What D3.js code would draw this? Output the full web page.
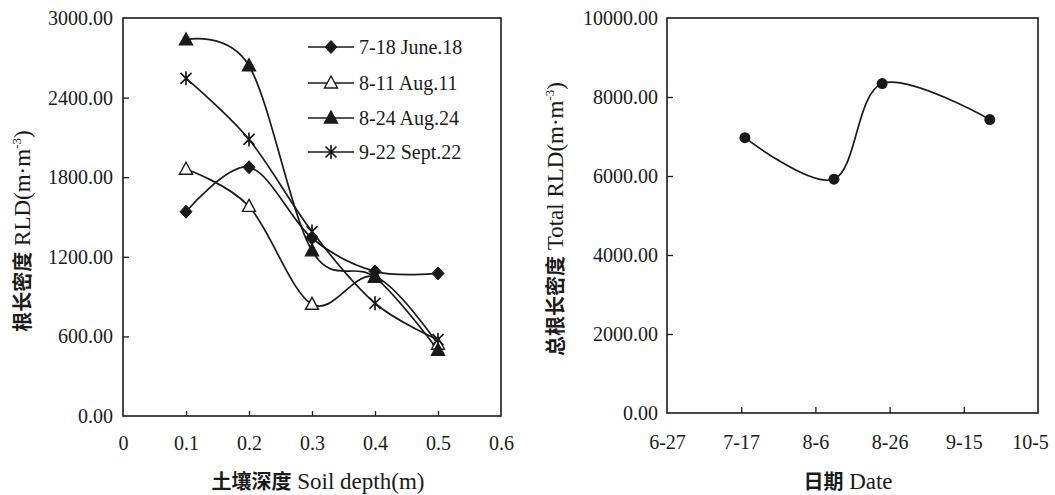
<!DOCTYPE html>
<html>
<head>
<meta charset="utf-8">
<script src="https://cdn.jsdelivr.net/npm/d3@7"></script>
<style>
  html, body { margin: 0; padding: 0; background: #fff; }
  svg { display: block; }
  text, tspan { font-family: "Liberation Serif", "Times New Roman", serif; fill: #1a1a1a; }
  tspan.cjk { font-family: "Noto Sans CJK SC", sans-serif; font-weight: 700; }
</style>
</head>
<body>
<svg id="chart" width="1055" height="495"></svg>
<script>
// ---------- data ----------
const depths = [0.1, 0.2, 0.3, 0.4, 0.5];
const seriesNames = ["7-18 June.18", "8-11 Aug.11", "8-24 Aug.24", "9-22 Sept.22"];
const june18 = [1540, 1875, 1340, 1090, 1075];
const aug11  = [1860, 1580, 842, 1050, 541];
const aug24  = [2835, 2640, 1245, 1045, 495];
const sept22 = [2545, 2085, 1390, 850, 575];
const depthTicks = [0, 0.1, 0.2, 0.3, 0.4, 0.5, 0.6];
const rldTicks = [0, 600, 1200, 1800, 2400, 3000];

const sampleDates = ["2009-07-18", "2009-08-11", "2009-08-24", "2009-09-22"];
const totalRLD = [6970, 5920, 8340, 7430];
const dateTicks = ["2009-06-27", "2009-07-17", "2009-08-06", "2009-08-26", "2009-09-15", "2009-10-05"];
const totalTicks = [0, 2000, 4000, 6000, 8000, 10000];

// ---------- setup ----------
const svg = d3.select("#chart");
const ink = "#1a1a1a";
const serif = '"Liberation Serif", "Times New Roman", serif';
const parse = d3.utcParse("%Y-%m-%d");
const fmt2 = d3.format(".2f");
const curve = d3.curveCatmullRom.alpha(0);

function frame(x0, x1, y0, y1) {
  svg.append("rect")
    .attr("x", x0).attr("y", y0)
    .attr("width", x1 - x0).attr("height", y1 - y0)
    .attr("fill", "none").attr("stroke", ink).attr("stroke-width", 1.6);
}

function styleAxis(g, fs) {
  g.attr("font-family", null).attr("font-size", null);
  g.select(".domain").remove();
  g.selectAll(".tick line").attr("stroke", ink).attr("stroke-width", 1.3);
  g.selectAll(".tick text").style("font-size", fs + "px").style("font-family", serif).attr("fill", ink);
}

// ---------- left chart ----------
const L = { x0: 123, x1: 501, y0: 18, y1: 416 };
const xL = d3.scaleLinear().domain([0, 0.6]).range([L.x0, L.x1]);
const yL = d3.scaleLinear().domain([0, 3000]).range([L.y1, L.y0]);

frame(L.x0, L.x1, L.y0, L.y1);

svg.append("g").attr("transform", `translate(0,${L.y1})`)
  .call(d3.axisBottom(xL).tickValues(depthTicks)
    .tickFormat(d => d === 0 ? "0" : d.toFixed(1))
    .tickSizeInner(-5).tickSizeOuter(0).tickPadding(20))
  .call(g => styleAxis(g, 20))
  .call(g => g.selectAll(".tick line").filter(d => d === 0 || d === 0.6).remove());

svg.append("g").attr("transform", `translate(${L.x0},0)`)
  .call(d3.axisLeft(yL).tickValues(rldTicks).tickFormat(fmt2)
    .tickSizeInner(-6).tickSizeOuter(0).tickPadding(10))
  .call(g => styleAxis(g, 20))
  .call(g => g.selectAll(".tick line").filter(d => d === 0 || d === 3000).remove());

const seriesData = [june18, aug11, aug24, sept22];
const markerTypes = ["diamond", "openTri", "tri", "star"];

function drawMarker(g, type, x, y) {
  if (type === "diamond") {
    g.append("path").attr("d", `M${x},${y-6.5}L${x+6},${y}L${x},${y+6.5}L${x-6},${y}Z`)
      .attr("fill", ink).attr("stroke", ink).attr("stroke-width", 1);
  } else if (type === "openTri" || type === "tri") {
    g.append("path").attr("d", `M${x},${y-7}L${x+6.5},${y+5}L${x-6.5},${y+5}Z`)
      .attr("fill", type === "tri" ? ink : "#fff").attr("stroke", ink).attr("stroke-width", 1.4);
  } else if (type === "star") {
    const r = 5.5;
    g.append("path")
      .attr("d", `M${x-r},${y-r}L${x+r},${y+r}M${x-r},${y+r}L${x+r},${y-r}M${x},${y-r-1.5}L${x},${y+r+1.5}`)
      .attr("fill", "none").attr("stroke", ink).attr("stroke-width", 1.7);
  }
}

const lineL = d3.line().x((d, i) => xL(depths[i])).y(d => yL(d)).curve(curve);
const gL = svg.append("g");
seriesData.forEach(vals => {
  gL.append("path").attr("d", lineL(vals))
    .attr("fill", "none").attr("stroke", ink).attr("stroke-width", 1.7);
});
seriesData.forEach((vals, s) => {
  vals.forEach((v, i) => drawMarker(gL, markerTypes[s], xL(depths[i]), yL(v)));
});

// legend
const legY = [47, 83, 118, 152];
seriesNames.forEach((name, s) => {
  const g = svg.append("g");
  g.append("line").attr("x1", 308).attr("x2", 354).attr("y1", legY[s]).attr("y2", legY[s])
    .attr("stroke", ink).attr("stroke-width", 1.7);
  drawMarker(g, markerTypes[s], 331, legY[s]);
  g.append("text").attr("x", 359).attr("y", legY[s]).attr("dy", "0.35em")
    .style("font-size", "20px").text(name);
});

// titles
function xTitle(cx, y, cjk, latin) {
  const t = svg.append("text").attr("x", cx).attr("y", y).attr("text-anchor", "middle");
  t.append("tspan").attr("class", "cjk").style("font-size", "20px").text(cjk);
  t.append("tspan").style("font-size", "23px").text(" " + latin);
}
function yTitle(cx, cy, cjk, latin) {
  const t = svg.append("text")
    .attr("transform", `translate(${cx},${cy}) rotate(-90)`)
    .attr("text-anchor", "middle").attr("dy", "0.35em");
  t.append("tspan").attr("class", "cjk").style("font-size", "20px").text(cjk);
  t.append("tspan").style("font-size", "23px").text(" " + latin);
  t.append("tspan").style("font-size", "13px").attr("dy", -9).text("-3");
  t.append("tspan").style("font-size", "23px").attr("dy", 9).text(")");
}
xTitle(318, 489, "土壤深度", "Soil depth(m)");
yTitle(24, 231, "根长密度", "RLD(m·m");

// ---------- right chart ----------
const R = { x0: 667, x1: 1038, y0: 18, y1: 413 };
const xR = d3.scaleUtc().domain([parse(dateTicks[0]), parse(dateTicks[dateTicks.length - 1])]).range([R.x0, R.x1]);
const yR = d3.scaleLinear().domain([0, 10000]).range([R.y1, R.y0]);

frame(R.x0, R.x1, R.y0, R.y1);

const fmtDate = d3.utcFormat("%-m-%-d");
svg.append("g").attr("transform", `translate(0,${R.y1})`)
  .call(d3.axisBottom(xR).tickValues(dateTicks.map(parse)).tickFormat(fmtDate)
    .tickSizeInner(-6).tickSizeOuter(0).tickPadding(22))
  .call(g => styleAxis(g, 20))
  .call(g => g.selectAll(".tick line").filter((d, i) => i === 0 || i === dateTicks.length - 1).remove())
  .call(g => g.selectAll(".tick text").filter((d, i) => i === dateTicks.length - 1).attr("x", -8));

svg.append("g").attr("transform", `translate(${R.x0},0)`)
  .call(d3.axisLeft(yR).tickValues(totalTicks).tickFormat(fmt2)
    .tickSizeInner(-6).tickSizeOuter(0).tickPadding(9))
  .call(g => styleAxis(g, 20))
  .call(g => g.selectAll(".tick line").filter(d => d === 0 || d === 10000).remove());

const lineR = d3.line().x((d, i) => xR(parse(sampleDates[i]))).y(d => yR(d)).curve(curve);
svg.append("path").attr("d", lineR(totalRLD))
  .attr("fill", "none").attr("stroke", ink).attr("stroke-width", 1.7);
svg.append("g").selectAll("circle").data(totalRLD).join("circle")
  .attr("cx", (d, i) => xR(parse(sampleDates[i]))).attr("cy", d => yR(d))
  .attr("r", 5.5).attr("fill", ink);

xTitle(848, 489, "日期", "Date");
yTitle(557, 219, "总根长密度", "Total RLD(m·m");
</script>
</body>
</html>
